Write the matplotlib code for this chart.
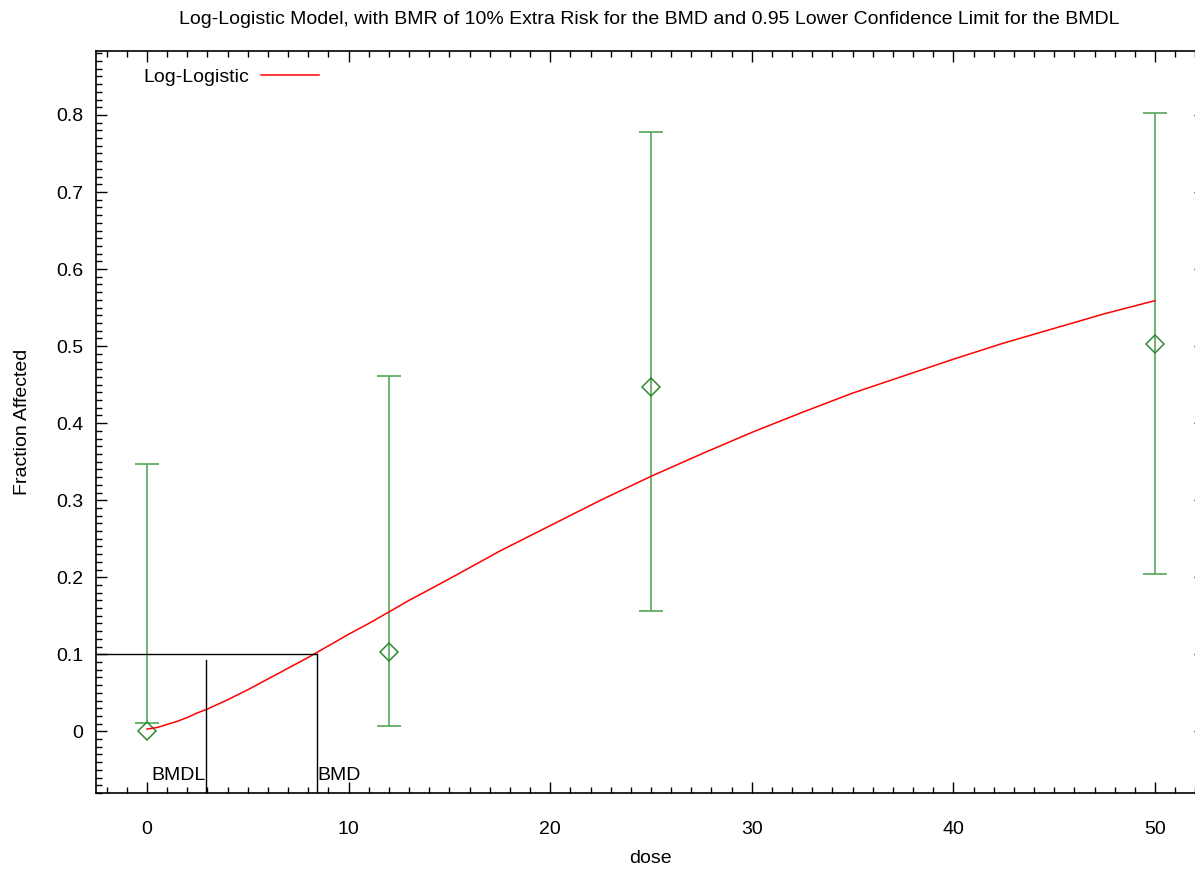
import matplotlib
matplotlib.use('Agg')
import matplotlib.pyplot as plt
from matplotlib.ticker import MultipleLocator

plt.rcParams['font.family'] = ['Liberation Sans', 'DejaVu Sans']

doses = [0, 12, 25, 50]
frac = [0.0, 0.1025, 0.447, 0.503]
ci_low = [0.0104, 0.0065, 0.156, 0.204]
ci_high = [0.347, 0.4616, 0.778, 0.803]

# fitted log-logistic curve
curve_dose = [0, 0.25, 0.5, 1, 1.5, 2, 2.5, 3, 3.5, 4, 5, 6, 7, 8, 9, 10, 11, 12, 13,
              15, 17.5, 20, 22.5, 25, 27.5, 30, 32.5, 35, 37.5, 40, 42.5, 45, 47.5, 50]
curve_frac = [0.003, 0.004, 0.005, 0.009, 0.013, 0.018, 0.024, 0.029, 0.035, 0.041,
              0.054, 0.068, 0.082, 0.096, 0.111, 0.126, 0.140, 0.155, 0.170,
              0.198, 0.234, 0.267, 0.300, 0.331, 0.360, 0.388, 0.414, 0.439, 0.461,
              0.483, 0.504, 0.523, 0.542, 0.559]

bmr = 0.1
bmd = 8.43
bmdl = 2.93

fig = plt.figure(figsize=(11.95, 8.69), dpi=100)
ax = fig.add_axes([96 / 1195, 1 - 793 / 869, (1205.4 - 96) / 1195, 742 / 869])

green = '#2e8b2e'
bar_green = '#56a656'
cap = 0.6  # half cap width in dose units
# error bars drawn by hand since the lower limit at dose 0 sits above the point
ax.vlines(doses, ci_low, ci_high, color=bar_green, linewidth=1.2)
ax.hlines(ci_low, [d - cap for d in doses], [d + cap for d in doses], color=bar_green, linewidth=1.2)
ax.hlines(ci_high, [d - cap for d in doses], [d + cap for d in doses], color=bar_green, linewidth=1.2)
ax.plot(doses, frac, linestyle='none', marker='D', markersize=9, markerfacecolor='none',
        markeredgecolor=green, markeredgewidth=1.1)

ax.plot(curve_dose, curve_frac, color='#ff0000', linewidth=1.1, label='Log-Logistic')

# BMD / BMDL markers
ax.plot([-2.53, bmd], [bmr, bmr], color='black', linewidth=1)
ax.plot([bmd, bmd], [-0.08, bmr], color='black', linewidth=1)
ax.plot([bmdl, bmdl], [-0.08, 0.092], color='black', linewidth=1)
ax.text(bmdl, -0.057, 'BMDL', ha='right', va='center', fontsize=14)
ax.text(bmd, -0.057, 'BMD', ha='left', va='center', fontsize=14)

ax.set_xlim(-2.53, 52.5)
ax.set_ylim(-0.08, 0.883)
ax.xaxis.set_major_locator(MultipleLocator(10))
ax.xaxis.set_minor_locator(MultipleLocator(1))
ax.yaxis.set_major_locator(MultipleLocator(0.1))
ax.yaxis.set_minor_locator(MultipleLocator(0.01))
ax.yaxis.set_major_formatter(plt.FuncFormatter(lambda v, p: '0' if abs(v) < 1e-9 else f'{v:.1f}'))
ax.tick_params(which='both', direction='in', top=True, right=True, labelsize=14)
ax.tick_params(which='major', length=8, width=1)
ax.tick_params(which='minor', length=4, width=1)
ax.tick_params(axis='y', pad=9)
ax.tick_params(axis='x', pad=20)
for s in ax.spines.values():
    s.set_linewidth(1.2)

ax.set_xlabel('dose', fontsize=14, labelpad=9)
ax.set_ylabel('Fraction Affected', fontsize=14, labelpad=18)
fig.text(649 / 1195, 1 - 19 / 869, 'Log-Logistic Model, with BMR of 10% Extra Risk for the BMD and 0.95 Lower Confidence Limit for the BMDL',
         ha='center', va='center', fontsize=14)

ax.legend(loc='upper left', bbox_to_anchor=(0.027, 1.0), frameon=False, markerfirst=False,
          fontsize=14, handlelength=3, handletextpad=0.6)

fig.savefig('out.png', dpi=100)
